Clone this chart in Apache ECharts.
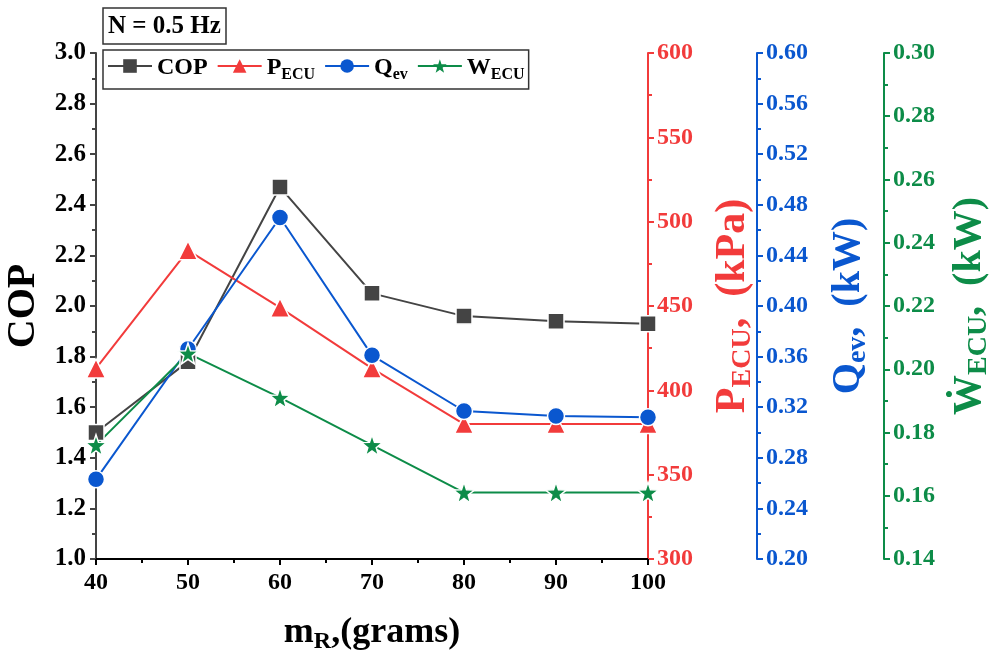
<!DOCTYPE html>
<html>
<head>
<meta charset="utf-8">
<script src="https://cdn.jsdelivr.net/npm/echarts@6/dist/echarts.min.js"></script>
<style>
  html, body { margin: 0; padding: 0; background: #fff; }
  #chart { width: 992px; height: 657px; }
</style>
</head>
<body>
<div id="chart"></div>
<script>
// mR (grams) on x axis
var massR = [40, 50, 60, 70, 80, 90, 100];
var cop = [1.50, 1.78, 2.47, 2.05, 1.96, 1.94, 1.93];
var pEcu = [413, 483, 449, 413, 380, 380, 380];     // kPa
var qEv = [0.263, 0.366, 0.470, 0.361, 0.317, 0.313, 0.312]; // kW
var wEcu = [0.176, 0.205, 0.191, 0.176, 0.161, 0.161, 0.161]; // kW

var FONT = '"Liberation Serif", "Times New Roman", serif';
var C_COP = '#444444', C_P = '#f23b3b', C_Q = '#0a57cf', C_W = '#0d8c48';

function pairs(ys) {
    return massR.map(function (x, i) { return [x, ys[i]]; });
}

// rich text styles for names with subscripts
function richSet(color, big, small, drop) {
    return {
        b: { fontFamily: FONT, fontWeight: 'bold', fontSize: big, color: color, lineHeight: big + 4, verticalAlign: 'bottom' },
        s: { fontFamily: FONT, fontWeight: 'bold', fontSize: small, color: color, lineHeight: small, verticalAlign: 'bottom', padding: [0, 0, -drop, 0] }
    };
}

function yAx(color, min, max, interval, offset, name, gap, big, small, fmt) {
    return {
        type: 'value',
        position: 'right',
        offset: offset,
        min: min,
        max: max,
        interval: interval,
        name: name,
        nameLocation: 'middle',
        nameRotate: 90,
        nameGap: gap,
        nameTextStyle: { rich: richSet(color, big, small, 3) },
        axisLine: { show: true, lineStyle: { color: color, width: 2 } },
        axisTick: { show: true, inside: false, length: 6, lineStyle: { color: color, width: 2 } },
        minorTick: { show: true, splitNumber: 2, length: 4, lineStyle: { color: color, width: 2 } },
        axisLabel: { color: color, fontFamily: FONT, fontWeight: 'bold', fontSize: 24, margin: 9, formatter: fmt },
        splitLine: { show: false }
    };
}

var legendNames = {
    'COP': '{b|COP}',
    'PECU': '{b|P}{s|ECU}',
    'Qev': '{b|Q}{s|ev}',
    'WECU': '{b|W}{s|ECU}'
};

var chart = echarts.init(document.getElementById('chart'));
chart.setOption({
    backgroundColor: '#fff',
    animation: false,
    title: {
        text: 'N = 0.5 Hz',
        left: 103,
        top: 8,
        padding: [6, 5, 5, 5],
        borderColor: '#333',
        borderWidth: 1.5,
        textStyle: { fontFamily: FONT, fontWeight: 'bold', fontSize: 25, color: '#000' }
    },
    legend: {
        left: 103,
        top: 50,
        padding: [6, 4, 6, 4],
        itemGap: 9,
        itemWidth: 44,
        itemHeight: 17,
        borderColor: '#333',
        borderWidth: 1.5,
        itemStyle: { borderWidth: 0 },
        data: ['COP', 'PECU', 'Qev', 'WECU'],
        formatter: function (n) { return legendNames[n]; },
        textStyle: { rich: richSet('#000', 24, 16, 3) }
    },
    grid: { left: 96, right: 344, top: 53, bottom: 98, outerBoundsMode: 'none', containLabel: false },
    xAxis: {
        type: 'value',
        min: 40,
        max: 100,
        interval: 10,
        name: '{b|m}{s|R}{b|,(grams)}',
        nameLocation: 'middle',
        nameGap: 52,
        nameTextStyle: { rich: richSet('#000', 36, 24, 3) },
        axisLine: { lineStyle: { color: '#000', width: 2 } },
        axisTick: { inside: false, length: 6, lineStyle: { color: '#000', width: 2 } },
        minorTick: { show: true, splitNumber: 2, length: 4, lineStyle: { color: '#000', width: 2 } },
        axisLabel: { color: '#000', fontFamily: FONT, fontWeight: 'bold', fontSize: 24, margin: 12 },
        splitLine: { show: false }
    },
    yAxis: [
        {
            type: 'value',
            position: 'left',
            min: 1.0,
            max: 3.0,
            interval: 0.2,
            name: 'COP',
            nameLocation: 'middle',
            nameRotate: 90,
            nameGap: 48,
            nameTextStyle: { fontFamily: FONT, fontWeight: 'bold', fontSize: 40, color: '#000' },
            axisLine: { show: true, lineStyle: { color: '#444', width: 2 } },
            axisTick: { show: true, inside: false, length: 6, lineStyle: { color: '#444', width: 2 } },
            minorTick: { show: true, splitNumber: 2, length: 4, lineStyle: { color: '#444', width: 2 } },
            axisLabel: { color: '#000', fontFamily: FONT, fontWeight: 'bold', fontSize: 25, margin: 10,
                formatter: function (v) { return v.toFixed(1); } },
            splitLine: { show: false }
        },
        yAx(C_P, 300, 600, 50, 0, '{b|P}{s|ECU}{b|,  (kPa)}', 60, 42, 28, null),
        yAx(C_Q, 0.20, 0.60, 0.04, 109, '{b|Q}{s|ev}{b|,  (kW)}', 68, 40, 28, function (v) { return v.toFixed(2); }),
        yAx(C_W, 0.14, 0.30, 0.02, 236, '{b|\u1E86}{s|ECU}{b|,  (kW)}', 62, 40, 28, function (v) { return v.toFixed(2); })
    ],
    series: [
        {
            name: 'COP', type: 'line', yAxisIndex: 0, data: pairs(cop),
            symbol: 'rect', symbolSize: 16,
            lineStyle: { color: C_COP, width: 2 },
            itemStyle: { color: C_COP, borderColor: '#fff', borderWidth: 1.5 }
        },
        {
            name: 'PECU', type: 'line', yAxisIndex: 1, data: pairs(pEcu),
            symbol: 'triangle', symbolSize: 19,
            lineStyle: { color: C_P, width: 2 },
            itemStyle: { color: C_P, borderColor: '#fff', borderWidth: 1.5 }
        },
        {
            name: 'Qev', type: 'line', yAxisIndex: 2, data: pairs(qEv),
            symbol: 'circle', symbolSize: 17,
            lineStyle: { color: C_Q, width: 2 },
            itemStyle: { color: C_Q, borderColor: '#fff', borderWidth: 1.5 }
        },
        {
            name: 'WECU', type: 'line', yAxisIndex: 3, data: pairs(wEcu),
            symbol: 'path://M50,0 L62,35 L100,36 L70,59 L81,95 L50,74 L19,95 L30,59 L0,36 L38,35 Z',
            symbolSize: 21,
            lineStyle: { color: C_W, width: 2 },
            itemStyle: { color: C_W, borderColor: '#fff', borderWidth: 1.5 }
        }
    ]
});
</script>
</body>
</html>
